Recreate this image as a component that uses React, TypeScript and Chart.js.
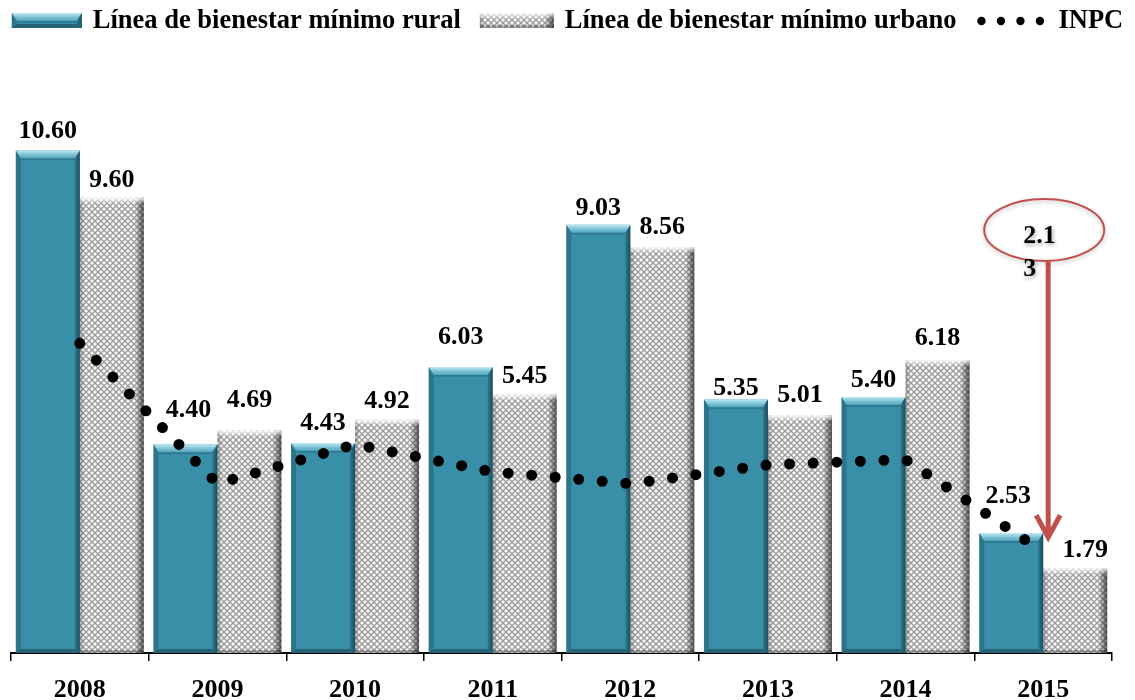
import React, { useEffect, useRef } from "react";
import { Chart, registerables } from "chart.js";

Chart.register(...registerables);

// ---- data ----
const years = ["2008", "2009", "2010", "2011", "2012", "2013", "2014", "2015"];
const rural = [10.6, 4.4, 4.43, 6.03, 9.03, 5.35, 5.4, 2.53];
const urbano = [9.6, 4.69, 4.92, 5.45, 8.56, 5.01, 6.18, 1.79];
const inpc = [6.53, 3.57, 4.4, 3.82, 3.57, 3.97, 4.08, 2.13];
const seriesNames = [
  "Línea de bienestar mínimo rural",
  "Línea de bienestar mínimo urbano",
  "INPC",
];
const calloutLines = ["2.1", "3"];
const calloutIndex = 7;
const calloutCenterValue = 8.92;
const arrowTopValue = 8.26;
const arrowTipValue = 2.4;
const yMax = 12;

// ---- style ----
const FONT = '"Liberation Serif", "Times New Roman", serif';
const TEAL = "#3a8fa8";
const RED = "#c0504d";
// gap (px) between bar top and value label baseline, and horizontal nudge, per bar
const ruralLabelGap = [12, 27, 13, 23, 10, 4, 10, 30];
const urbanLabelGap = [11, 24, 12, 12, 13, 13, 15, 11];
const ruralLabelDx = [0, 3, 0, 0, 0, 0, 0, -3];
const urbanLabelDx = [0, 0, 0, 0, 0, 0, 0, 10];

function makeHatch(ctx: CanvasRenderingContext2D): CanvasPattern | string {
  const c = document.createElement("canvas");
  c.width = 6;
  c.height = 6;
  const g = c.getContext("2d");
  if (!g) return "#ddd";
  g.fillStyle = "#f6f6f6";
  g.fillRect(0, 0, 6, 6);
  g.strokeStyle = "#9c9c9c";
  g.lineWidth = 1.3;
  g.beginPath();
  g.moveTo(0, 0);
  g.lineTo(6, 6);
  g.moveTo(6, 0);
  g.lineTo(0, 6);
  g.stroke();
  return ctx.createPattern(c, "repeat") || "#ddd";
}

function bevelRural(ctx: CanvasRenderingContext2D, left: number, top: number, right: number, bottom: number) {
  const b = 8;
  const gt = ctx.createLinearGradient(0, top, 0, top + b);
  gt.addColorStop(0, "rgba(200,240,250,0.95)");
  gt.addColorStop(1, "rgba(90,175,200,0.7)");
  ctx.fillStyle = gt;
  ctx.beginPath();
  ctx.moveTo(left, top);
  ctx.lineTo(right, top);
  ctx.lineTo(right - 5, top + b);
  ctx.lineTo(left + 5, top + b);
  ctx.closePath();
  ctx.fill();
  ctx.fillStyle = "rgba(20,70,85,0.35)";
  ctx.fillRect(left + 5, top + b, right - left - 10, 1.5);
  const gr = ctx.createLinearGradient(right - 6, 0, right, 0);
  gr.addColorStop(0, "rgba(15,55,68,0.15)");
  gr.addColorStop(1, "rgba(15,55,68,0.75)");
  ctx.fillStyle = gr;
  ctx.beginPath();
  ctx.moveTo(right, top);
  ctx.lineTo(right, bottom);
  ctx.lineTo(right - 5, bottom - 4);
  ctx.lineTo(right - 5, top + b);
  ctx.closePath();
  ctx.fill();
  ctx.fillStyle = "rgba(20,70,85,0.35)";
  ctx.beginPath();
  ctx.moveTo(left, top);
  ctx.lineTo(left + 5, top + b);
  ctx.lineTo(left + 5, bottom - 4);
  ctx.lineTo(left, bottom);
  ctx.closePath();
  ctx.fill();
  ctx.fillStyle = "rgba(15,55,68,0.5)";
  ctx.beginPath();
  ctx.moveTo(left, bottom);
  ctx.lineTo(left + 5, bottom - 4);
  ctx.lineTo(right - 5, bottom - 4);
  ctx.lineTo(right, bottom);
  ctx.closePath();
  ctx.fill();
}

function bevelUrban(ctx: CanvasRenderingContext2D, left: number, top: number, right: number, bottom: number) {
  const gr = ctx.createLinearGradient(right - 9, 0, right, 0);
  gr.addColorStop(0, "rgba(0,0,0,0)");
  gr.addColorStop(1, "rgba(0,0,0,0.6)");
  ctx.fillStyle = gr;
  ctx.fillRect(right - 9, top, 9, bottom - top);
  const gl = ctx.createLinearGradient(left, 0, left + 5, 0);
  gl.addColorStop(0, "rgba(0,0,0,0.25)");
  gl.addColorStop(1, "rgba(0,0,0,0)");
  ctx.fillStyle = gl;
  ctx.fillRect(left, top, 5, bottom - top);
  const gt = ctx.createLinearGradient(0, top, 0, top + 6);
  gt.addColorStop(0, "rgba(255,255,255,0.9)");
  gt.addColorStop(1, "rgba(255,255,255,0)");
  ctx.fillStyle = gt;
  ctx.fillRect(left, top, right - left, 6);
  ctx.fillStyle = "rgba(0,0,0,0.25)";
  ctx.fillRect(left, bottom - 3, right - left, 3);
}

const barStylePlugin = {
  id: "barStyle",
  afterDatasetDraw(chart: any, args: any) {
    const meta = args.meta;
    if (meta.type !== "bar") return;
    const ctx = chart.ctx as CanvasRenderingContext2D;
    ctx.save();
    meta.data.forEach((el: any) => {
      const p = el.getProps(["x", "y", "base", "width"], true);
      const left = p.x - p.width / 2;
      const right = p.x + p.width / 2;
      if (args.index === 1) bevelRural(ctx, left, p.y, right, p.base);
      else bevelUrban(ctx, left, p.y, right, p.base);
    });
    ctx.restore();
  },
};

const labelPlugin = {
  id: "valueLabels",
  afterDatasetsDraw(chart: any) {
    const ctx = chart.ctx as CanvasRenderingContext2D;
    ctx.save();
    ctx.font = `bold 26px ${FONT}`;
    ctx.fillStyle = "#000";
    ctx.textAlign = "center";
    ctx.textBaseline = "alphabetic";
    chart.data.datasets.forEach((ds: any, i: number) => {
      const meta = chart.getDatasetMeta(i);
      if (meta.type !== "bar") return;
      const gaps = i === 1 ? ruralLabelGap : urbanLabelGap;
      const dxs = i === 1 ? ruralLabelDx : urbanLabelDx;
      meta.data.forEach((el: any, j: number) => {
        const p = el.getProps(["x", "y"], true);
        ctx.fillText(Number(ds.data[j]).toFixed(2), p.x + dxs[j], p.y - gaps[j]);
      });
    });
    ctx.restore();
  },
};

const legendPlugin = {
  id: "customLegend",
  afterDraw(chart: any) {
    const ctx = chart.ctx as CanvasRenderingContext2D;
    ctx.save();
    ctx.font = `bold 26.5px ${FONT}`;
    const markerW = [70, 74, 72];
    const gapBoxText = 11;
    const gapItems = 19;
    const widths = seriesNames.map((s) => ctx.measureText(s).width);
    let total = 0;
    widths.forEach((w, i) => {
      total += markerW[i] + gapBoxText + w + (i < widths.length - 1 ? gapItems : 0);
    });
    let x = (chart.width - total) / 2;
    const cy = 12;
    const baseline = 20;
    seriesNames.forEach((name, i) => {
      const mw = markerW[i];
      if (i === 0) {
        ctx.fillStyle = TEAL;
        ctx.fillRect(x, cy - 7, mw, 15);
        bevelRural(ctx, x, cy - 7, x + mw, cy + 8);
      } else if (i === 1) {
        ctx.fillStyle = makeHatch(ctx);
        ctx.fillRect(x, cy - 7, mw, 15);
        bevelUrban(ctx, x, cy - 7, x + mw, cy + 8);
      } else {
        ctx.fillStyle = "#000";
        for (let k = 0; k < 4; k++) {
          ctx.beginPath();
          ctx.arc(x + 6 + k * 19.5, cy + 1, 4.2, 0, Math.PI * 2);
          ctx.fill();
        }
      }
      x += mw + gapBoxText;
      ctx.fillStyle = "#000";
      ctx.textAlign = "left";
      ctx.textBaseline = "alphabetic";
      ctx.fillText(name, x, baseline);
      x += widths[i] + gapItems;
    });
    ctx.restore();
  },
};

const calloutPlugin = {
  id: "callout",
  afterDraw(chart: any) {
    const ctx = chart.ctx as CanvasRenderingContext2D;
    const xs = chart.scales.x;
    const ys = chart.scales.y;
    const cx = xs.getPixelForValue(calloutIndex) + 1;
    const cy = ys.getPixelForValue(calloutCenterValue);
    ctx.save();
    ctx.shadowColor = "rgba(0,0,0,0.25)";
    ctx.shadowBlur = 4;
    ctx.shadowOffsetY = 2;
    ctx.strokeStyle = RED;
    ctx.lineWidth = 2;
    ctx.beginPath();
    ctx.ellipse(cx, cy, 60, 31, 0, 0, Math.PI * 2);
    ctx.stroke();
    ctx.shadowColor = "rgba(0,0,0,0.35)";
    ctx.shadowBlur = 4;
    ctx.shadowOffsetX = 1;
    ctx.shadowOffsetY = 2;
    ctx.font = `bold 26px ${FONT}`;
    ctx.fillStyle = "#000";
    ctx.textAlign = "left";
    ctx.textBaseline = "alphabetic";
    ctx.fillText(calloutLines[0], cx - 21, cy + 13);
    ctx.fillText(calloutLines[1], cx - 21, cy + 46);
    ctx.shadowColor = "transparent";
    const ax = cx + 4;
    const yTop = ys.getPixelForValue(arrowTopValue);
    const yTip = ys.getPixelForValue(arrowTipValue);
    ctx.strokeStyle = RED;
    ctx.lineWidth = 5;
    ctx.lineCap = "butt";
    ctx.beginPath();
    ctx.moveTo(ax, yTop);
    ctx.lineTo(ax, yTip - 2);
    ctx.stroke();
    ctx.lineJoin = "miter";
    ctx.beginPath();
    ctx.moveTo(ax - 12, yTip - 24);
    ctx.lineTo(ax, yTip - 2);
    ctx.lineTo(ax + 12, yTip - 24);
    ctx.stroke();
    ctx.restore();
  },
};

export default function App() {
  const ref = useRef<HTMLCanvasElement | null>(null);

  useEffect(() => {
    const canvas = ref.current;
    if (!canvas) return;
    const ctx = canvas.getContext("2d");
    if (!ctx) return;
    const hatch = makeHatch(ctx);

    const chart = new Chart(canvas, {
      type: "bar",
      data: {
        labels: years,
        datasets: [
          {
            type: "line" as const,
            label: seriesNames[2],
            data: inpc,
            borderColor: "#000",
            borderWidth: 11,
            borderDash: [0, 23.6],
            borderCapStyle: "round",
            pointRadius: 0,
            tension: 0,
            fill: false,
            order: 0,
          } as any,
          {
            label: seriesNames[0],
            data: rural,
            backgroundColor: TEAL,
            categoryPercentage: 0.93,
            barPercentage: 1,
            order: 1,
          },
          {
            label: seriesNames[1],
            data: urbano,
            backgroundColor: hatch as any,
            categoryPercentage: 0.93,
            barPercentage: 1,
            order: 2,
          },
        ],
      },
      options: {
        animation: false,
        responsive: true,
        maintainAspectRatio: false,
        layout: { padding: { left: 3, right: 15, top: 76, bottom: -19 } },
        plugins: {
          legend: { display: false },
          tooltip: { enabled: false },
        },
        scales: {
          x: {
            offset: true,
            grid: {
              display: true,
              offset: true,
              drawOnChartArea: false,
              drawTicks: true,
              tickLength: 8,
              color: "#000",
              lineWidth: 1.5,
            },
            border: { display: true, color: "#000", width: 2 },
            ticks: {
              color: "#000",
              padding: 16,
              font: { family: FONT, size: 26, weight: "bold", lineHeight: 1 },
            },
          },
          y: {
            display: false,
            min: 0,
            max: yMax,
          },
        },
      },
      plugins: [barStylePlugin, labelPlugin, legendPlugin, calloutPlugin],
    });

    return () => chart.destroy();
  }, []);

  return (
    <div style={{ position: "relative", width: "100%", height: 692 }}>
      <canvas ref={ref} />
    </div>
  );
}
